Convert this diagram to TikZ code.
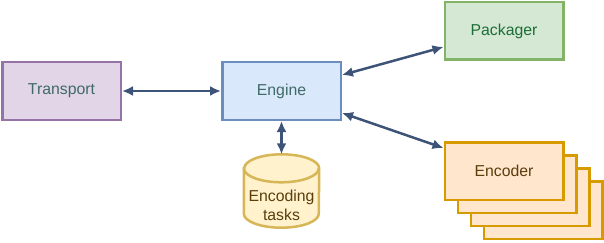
\documentclass[tikz,border=0pt]{standalone}
\usepackage{fontspec}
\setmainfont{Liberation Sans}
\usetikzlibrary{arrows.meta}
\definecolor{linkblue}{RGB}{61, 84, 120}
\definecolor{transfill}{HTML}{E1D5E7}
\definecolor{transline}{HTML}{9673A6}
\definecolor{engfill}{HTML}{DAE8FC}
\definecolor{engline}{HTML}{6C8EBF}
\definecolor{packfill}{HTML}{D5E8D4}
\definecolor{packline}{HTML}{82B366}
\definecolor{encfill}{HTML}{FFE6CC}
\definecolor{encline}{HTML}{D79B00}
\definecolor{taskfill}{HTML}{FFF2CC}
\definecolor{taskline}{HTML}{D6B656}
\definecolor{tealtext}{RGB}{64, 106, 102}
\definecolor{greentext}{RGB}{28, 110, 54}
\definecolor{browntext}{RGB}{90, 62, 12}

\begin{document}
\begin{tikzpicture}[x=1pt, y=-1pt,
			box/.style={draw, line width=2.5pt, minimum width=118.5pt, minimum height=57.5pt, inner sep=0pt},
			link/.style={<->, linkblue, line width=2.5pt},
			>={Latex[length=11pt,width=10pt]},
			font=\fontsize{15.8}{19}\selectfont]
			% Rahmen
			\useasboundingbox (0,0) rectangle (604,243);
			% Kaesten
			\node[box, fill=transfill, draw=transline, text=tealtext] (transport) at (61.5,91) {Transport};
			\node[box, fill=engfill, draw=engline, text=tealtext] (engine) at (281.5,91) {Engine};
			\node[box, fill=packfill, draw=packline, text=greentext] (packager) at (504,31) {Packager};
			% Encoder-Stapel
			\foreach \d in {3,2,1}
				\node[box, fill=encfill, draw=encline] (enc\d) at (504+13*\d,171+13*\d) {};
			\node[box, fill=encfill, draw=encline, text=browntext] (encoder) at (504,171) {Encoder};
			% Zylinder
			\node[minimum width=75pt, minimum height=73pt, inner sep=0pt] (tasks) at (281.5,191) {};
			\draw[fill=taskfill, draw=taskline, line width=2.5pt]
				([yshift=-14pt]tasks.north west) -- ([yshift=14pt]tasks.south west)
				arc[start angle=180, end angle=360, x radius=37.5pt, y radius=14pt]
				-- ([yshift=-14pt]tasks.north east)
				arc[start angle=0, end angle=180, x radius=37.5pt, y radius=14pt] -- cycle;
			\draw[draw=taskline, line width=2.5pt] ([yshift=-14pt]tasks.north west)
				arc[start angle=180, end angle=360, x radius=37.5pt, y radius=14pt];
			\node[align=center, text=browntext] (taskstext) at ([yshift=-14pt]tasks.center) {Encoding\\tasks};
			% Pfeile
			\draw[link] (transport) -- (engine);
			\draw[link] (engine) -- (tasks.north);
			\draw[link] ([yshift=16pt]engine.east) -- ([yshift=-16pt]packager.west);
			\draw[link] ([yshift=-22pt]engine.east) -- ([yshift=23pt]encoder.west);
		\end{tikzpicture}
\end{document}
